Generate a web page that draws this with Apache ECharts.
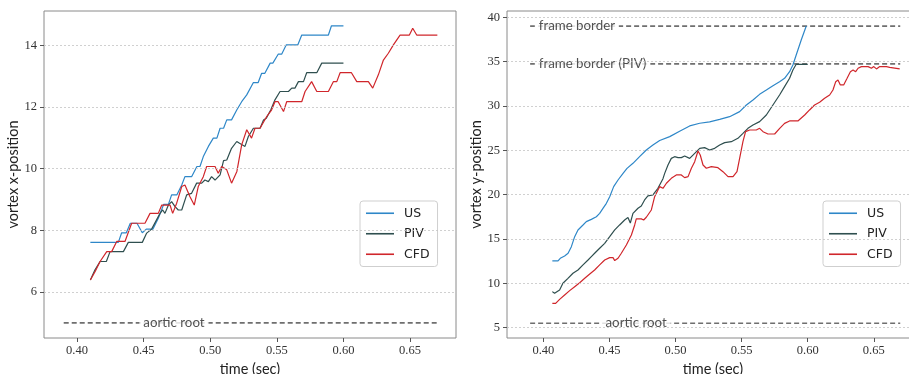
<!DOCTYPE html>
<html>
<head>
<meta charset="utf-8">
<script src="https://cdn.jsdelivr.net/npm/echarts@6/dist/echarts.min.js"></script>
<style>
  html, body { margin: 0; padding: 0; background: #fff; }
  #chart { width: 909px; height: 374px; }
</style>
</head>
<body>
<div id="chart"></div>
<script>
// series names (legend order)
const seriesNames = ["US", "PIV", "CFD"];
const seriesColors = ["#2e87c8", "#2f4f4f", "#d0262b"];

// left panel: vortex x-position vs time
const leftUS = [[0.410,7.61],[0.431,7.61],[0.4335,7.92],[0.437,7.92],[0.440,8.23],[0.445,8.23],[0.449,7.92],[0.452,8.04],[0.457,8.04],[0.461,8.39],[0.465,8.84],[0.4686,8.84],[0.471,9.15],[0.475,9.15],[0.4786,9.47],[0.481,9.74],[0.486,9.74],[0.490,10.07],[0.4923,10.07],[0.4948,10.39],[0.4986,10.72],[0.5023,10.99],[0.505,10.99],[0.5074,11.31],[0.510,11.31],[0.5124,11.58],[0.516,11.58],[0.5199,11.90],[0.5236,12.17],[0.5274,12.39],[0.5324,12.79],[0.536,12.79],[0.5386,13.09],[0.541,13.09],[0.545,13.42],[0.547,13.42],[0.551,13.71],[0.5536,13.71],[0.557,14.01],[0.5657,14.01],[0.5687,14.33],[0.5887,14.33],[0.591,14.63],[0.600,14.63]];
const leftPIV = [[0.410,6.39],[0.4135,6.72],[0.4173,6.99],[0.422,6.99],[0.4248,7.31],[0.4348,7.31],[0.4385,7.61],[0.449,7.61],[0.4523,7.91],[0.456,8.04],[0.4623,8.55],[0.4643,8.66],[0.466,8.55],[0.4686,8.82],[0.471,8.93],[0.4736,8.77],[0.476,8.66],[0.4786,8.66],[0.4823,9.15],[0.486,9.20],[0.4898,9.53],[0.4936,9.53],[0.496,9.63],[0.4986,9.58],[0.501,9.74],[0.5036,9.63],[0.5074,9.80],[0.510,10.26],[0.5124,10.28],[0.516,10.66],[0.5199,10.88],[0.522,10.82],[0.5261,10.72],[0.5286,11.04],[0.5324,11.31],[0.5374,11.31],[0.540,11.58],[0.542,11.63],[0.5454,11.90],[0.5486,12.23],[0.5524,12.50],[0.5587,12.50],[0.5612,12.61],[0.5636,12.61],[0.5662,12.82],[0.570,12.82],[0.5724,13.11],[0.580,13.11],[0.5837,13.42],[0.600,13.42]];
const leftCFD = [[0.410,6.39],[0.4135,6.66],[0.4173,6.99],[0.4223,7.31],[0.426,7.31],[0.4298,7.64],[0.436,7.64],[0.441,8.23],[0.451,8.23],[0.4548,8.55],[0.461,8.55],[0.4636,8.82],[0.4698,8.82],[0.4718,8.55],[0.4748,8.88],[0.4786,9.42],[0.481,9.47],[0.4848,9.09],[0.488,8.82],[0.491,9.42],[0.4948,9.74],[0.4973,10.07],[0.5036,10.07],[0.506,9.85],[0.5086,10.07],[0.5124,9.96],[0.516,9.53],[0.520,9.91],[0.5236,10.77],[0.5274,11.26],[0.531,10.99],[0.5336,11.31],[0.5374,11.31],[0.5424,11.69],[0.546,11.90],[0.5486,12.17],[0.551,12.17],[0.555,11.85],[0.5574,12.17],[0.5687,12.17],[0.5712,12.50],[0.5761,12.82],[0.580,12.50],[0.5887,12.50],[0.5924,12.82],[0.595,12.82],[0.5975,13.11],[0.606,13.11],[0.610,12.82],[0.6187,12.82],[0.622,12.61],[0.6262,13.04],[0.630,13.52],[0.6337,13.74],[0.6375,14.01],[0.6425,14.33],[0.6495,14.33],[0.652,14.55],[0.655,14.33],[0.6705,14.33]];

// right panel: vortex y-position vs time
const rightUS = [[0.4068,12.52],[0.4111,12.52],[0.4128,12.82],[0.4161,13.08],[0.4187,13.38],[0.4212,14.13],[0.4237,15.26],[0.4262,16.01],[0.430,16.57],[0.4325,16.95],[0.4363,17.21],[0.4401,17.51],[0.4426,17.89],[0.4451,18.45],[0.4477,19.02],[0.4502,19.77],[0.4532,20.90],[0.4565,21.65],[0.4603,22.40],[0.4633,22.96],[0.4678,23.53],[0.4728,24.28],[0.4779,25.03],[0.4829,25.59],[0.488,26.10],[0.4956,26.54],[0.5031,27.15],[0.5107,27.75],[0.5183,28.05],[0.5258,28.20],[0.5334,28.49],[0.5409,28.79],[0.5485,29.36],[0.5536,30.11],[0.5586,30.67],[0.5636,31.31],[0.5687,31.80],[0.5737,32.29],[0.5787,32.74],[0.5825,33.12],[0.5863,33.87],[0.5888,34.62],[0.5913,35.75],[0.5951,37.44],[0.5989,39.02]];
const rightPIV = [[0.4068,9.06],[0.4085,8.87],[0.4123,9.25],[0.4148,10.00],[0.4186,10.56],[0.4224,11.13],[0.4262,11.50],[0.430,12.07],[0.4338,12.63],[0.4363,13.01],[0.4388,13.39],[0.4426,13.95],[0.4464,14.51],[0.4502,15.26],[0.454,16.02],[0.4577,16.58],[0.4615,17.14],[0.464,17.41],[0.4658,16.80],[0.4678,17.89],[0.4716,18.46],[0.4741,18.72],[0.4766,19.40],[0.4791,19.85],[0.4829,19.96],[0.4867,20.71],[0.4905,21.80],[0.4918,22.40],[0.4943,23.34],[0.4968,24.09],[0.4993,24.28],[0.5019,24.17],[0.5044,24.17],[0.5069,24.36],[0.5107,24.09],[0.5145,24.66],[0.5183,25.22],[0.522,25.30],[0.5258,25.03],[0.5296,25.22],[0.5334,25.60],[0.5372,25.86],[0.5422,25.97],[0.5472,26.35],[0.551,26.91],[0.5548,27.48],[0.5586,27.85],[0.5636,28.23],[0.5687,28.98],[0.5737,30.11],[0.5787,31.24],[0.5825,32.18],[0.5863,33.12],[0.5888,34.06],[0.5913,34.70],[0.600,34.70]];
const rightCFD = [[0.4068,7.74],[0.4093,7.74],[0.4123,8.19],[0.4161,8.68],[0.4199,9.17],[0.4237,9.62],[0.4275,10.07],[0.4313,10.56],[0.4351,11.05],[0.4388,11.50],[0.4426,12.07],[0.4464,12.63],[0.4502,12.89],[0.4527,12.89],[0.454,12.56],[0.4565,12.82],[0.459,13.39],[0.4628,14.32],[0.4666,15.45],[0.4691,16.58],[0.4703,17.26],[0.4741,17.26],[0.4759,17.14],[0.4779,17.45],[0.4817,18.27],[0.4842,19.77],[0.4867,20.52],[0.488,20.90],[0.4905,20.71],[0.4931,21.28],[0.4968,21.84],[0.5006,22.22],[0.5044,22.22],[0.5069,21.92],[0.5095,22.03],[0.512,22.97],[0.5145,23.72],[0.517,24.92],[0.5187,24.47],[0.5208,23.34],[0.5233,22.97],[0.5271,23.16],[0.5321,23.04],[0.5359,22.59],[0.5397,22.03],[0.5435,22.03],[0.5465,22.59],[0.5485,24.09],[0.551,25.97],[0.553,27.10],[0.5561,27.29],[0.5611,27.29],[0.5636,27.48],[0.5662,27.10],[0.5699,26.84],[0.575,26.84],[0.5788,27.48],[0.5825,28.04],[0.5863,28.31],[0.5926,28.31],[0.5977,28.98],[0.6014,29.55],[0.6052,30.11],[0.609,30.41],[0.6128,30.86],[0.6166,31.24],[0.6191,31.80],[0.6212,32.74],[0.6229,32.93],[0.6247,32.37],[0.6272,32.37],[0.6298,33.12],[0.6323,33.87],[0.6343,34.06],[0.6363,33.87],[0.6381,34.25],[0.6406,34.44],[0.6457,34.44],[0.6482,34.25],[0.650,34.44],[0.652,34.18],[0.6545,34.44],[0.6596,34.44],[0.662,34.36],[0.6633,34.18],[0.6696,34.18]];

// horizontal reference lines: label, y value, where the label gap begins
const leftRefNames = ["aortic root"];
const leftRefValues = [5.0];
const leftRefLabelX = [0.4468];
const rightRefNames = ["frame border", "frame border (PIV)", "aortic root"];
const rightRefValues = [39.0, 34.75, 5.5];
const rightRefLabelX = [0.3935, 0.3935, 0.4440];
const refStart = 0.39;
const refEnd = 0.67;

// tick labels
const xTicks = [0.40, 0.45, 0.50, 0.55, 0.60, 0.65];
const leftYTicks = [6, 8, 10, 12, 14];
const rightYTicks = [5, 10, 15, 20, 25, 30, 35, 40];

const chart = echarts.init(document.getElementById("chart"), null, { renderer: "canvas" });

const serifFont = "Liberation Serif";
const sansFont = "Lato";

function xAxisFor(gridIndex, min, max) {
  return {
    type: "value", gridIndex, min, max,
    name: "time (sec)", nameLocation: "middle", nameGap: 19,
    nameTextStyle: { fontFamily: sansFont, fontSize: 14.5, color: "#222" },
    axisLine: { show: false },
    axisTick: { show: true, inside: false, length: 4, lineStyle: { color: "#555" }, customValues: xTicks },
    axisLabel: {
      customValues: xTicks, margin: 6, fontFamily: serifFont, fontSize: 12.5, color: "#333",
      formatter: (v) => v.toFixed(2)
    },
    splitLine: { show: false }
  };
}

function yAxisFor(gridIndex, min, max, ticks, name, gap) {
  return {
    type: "value", gridIndex, min, max,
    name, nameLocation: "middle", nameGap: gap,
    nameTextStyle: { fontFamily: sansFont, fontSize: 14.5, color: "#222" },
    axisLine: { show: false },
    axisTick: { show: true, inside: false, length: 4, lineStyle: { color: "#555" }, customValues: ticks },
    axisLabel: { customValues: ticks, margin: 7, fontFamily: serifFont, fontSize: 12.5, color: "#333" },
    splitLine: { show: false }
  };
}

function dataSeries(name, data, color, xi) {
  return {
    name, type: "line", data, xAxisIndex: xi, yAxisIndex: xi,
    symbol: "none", lineStyle: { color, width: 1.2 }, itemStyle: { color },
    z: 3, animation: false
  };
}

// gridlines drawn at the y tick values
function gridLineSeries(ticks, xi) {
  return {
    type: "line", xAxisIndex: xi, yAxisIndex: xi, silent: true, animation: false,
    data: [], symbol: "none", z: 1,
    markLine: {
      silent: true, symbol: "none", animation: false, label: { show: false },
      lineStyle: { color: "#c4c4c4", type: [2, 2], width: 0.8 },
      data: ticks.map((t) => ({ yAxis: t }))
    }
  };
}

function refSeries(names, values, labelX, xi) {
  const out = [];
  values.forEach((v, i) => {
    out.push({
      type: "line", xAxisIndex: xi, yAxisIndex: xi, silent: true, animation: false,
      data: [[refStart, v], [refEnd, v]], symbol: "none", z: 2,
      lineStyle: { color: "#6f6f6f", width: 1.6, type: [5, 3] }
    });
    out.push({
      type: "scatter", xAxisIndex: xi, yAxisIndex: xi, silent: true, animation: false,
      data: [[labelX[i], v]], symbolSize: 0, z: 4,
      label: {
        show: true, position: "right", distance: 0, formatter: names[i],
        fontFamily: sansFont, fontSize: 13.3, color: "#262626",
        backgroundColor: "#fff", padding: [1, 4, 1, 4]
      }
    });
  });
  return out;
}

function legendAt(left) {
  return {
    data: seriesNames, left, top: 201, orient: "vertical",
    icon: "rect", itemWidth: 28, itemHeight: 1.6, itemGap: 6,
    padding: [5, 8, 5, 6],
    backgroundColor: "#fff", borderColor: "#cfcfcf", borderWidth: 1, borderRadius: 3,
    textStyle: { fontFamily: "DejaVu Sans", fontSize: 12.5, color: "#222", padding: [0, 0, 0, 5], lineHeight: 14.5 },
    selectedMode: false
  };
}

const option = {
  backgroundColor: "#fff",
  animation: false,
  grid: [
    { left: 44, top: 11, width: 412, height: 327, outerBoundsMode: "none", containLabel: false, show: true, borderColor: "#8a8a8a", borderWidth: 1, backgroundColor: "transparent" },
    { left: 507, top: 11, width: 412, height: 327, outerBoundsMode: "none", containLabel: false, show: true, borderColor: "#8a8a8a", borderWidth: 1, backgroundColor: "transparent" }
  ],
  xAxis: [xAxisFor(0, 0.3752, 0.6845), xAxisFor(1, 0.3725, 0.6842)],
  yAxis: [
    yAxisFor(0, 4.51, 15.11, leftYTicks, "vortex x-position", 17),
    yAxisFor(1, 3.83, 40.71, rightYTicks, "vortex y-position", 19)
  ],
  legend: [legendAt(360), legendAt(823)],
  series: [
    dataSeries("US", leftUS, seriesColors[0], 0),
    dataSeries("PIV", leftPIV, seriesColors[1], 0),
    dataSeries("CFD", leftCFD, seriesColors[2], 0),
    dataSeries("US", rightUS, seriesColors[0], 1),
    dataSeries("PIV", rightPIV, seriesColors[1], 1),
    dataSeries("CFD", rightCFD, seriesColors[2], 1),
    gridLineSeries(leftYTicks, 0),
    gridLineSeries(rightYTicks, 1),
    ...refSeries(leftRefNames, leftRefValues, leftRefLabelX, 0),
    ...refSeries(rightRefNames, rightRefValues, rightRefLabelX, 1)
  ]
};

chart.setOption(option);
</script>
</body>
</html>
